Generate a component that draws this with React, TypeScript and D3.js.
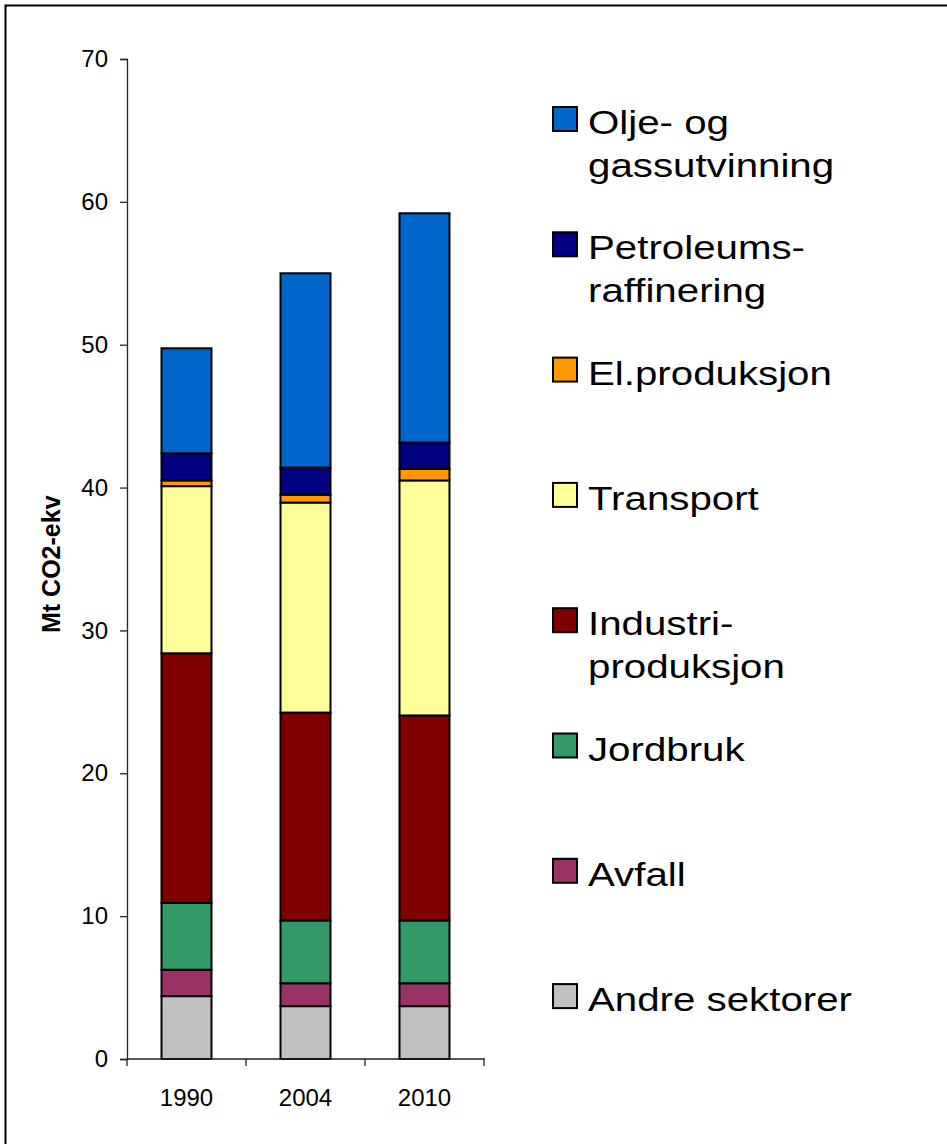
import React, { useRef, useEffect } from 'react';
import * as d3 from 'd3';

// years on the x axis
const years = ['1990', '2004', '2010'];

// sectors, bottom to top of the stack
const sectors = [
    'Andre sektorer',
    'Avfall',
    'Jordbruk',
    'Industriproduksjon',
    'Transport',
    'El.produksjon',
    'Petroleumsraffinering',
    'Olje- og gassutvinning',
];

// Mt CO2-ekv per sector, one value per year
const andre = [4.4, 3.7, 3.7];
const avfall = [1.85, 1.6, 1.6];
const jordbruk = [4.67, 4.4, 4.4];
const industri = [17.48, 14.55, 14.35];
const transport = [11.7, 14.7, 16.45];
const elprod = [0.4, 0.55, 0.8];
const petroleum = [1.9, 1.9, 1.85];
const olje = [7.35, 13.6, 16.05];

const sectorValues = [andre, avfall, jordbruk, industri, transport, elprod, petroleum, olje];

const colors = ['#C0C0C0', '#993366', '#339966', '#800000', '#FFFF99', '#FF9900', '#000080', '#0066CC'];

// legend text, top entry first, split over lines
const legendLines = [
    ['Olje- og', 'gassutvinning'],
    ['Petroleums-', 'raffinering'],
    ['El.produksjon'],
    ['Transport'],
    ['Industri-', 'produksjon'],
    ['Jordbruk'],
    ['Avfall'],
    ['Andre sektorer'],
];

const yTicks = [0, 10, 20, 30, 40, 50, 60, 70];

const ChartD3 = () => {
    const ref = useRef(null);

    useEffect(() => {
        const width = 947;
        const height = 1144;
        const font = "'Liberation Sans', Arial, sans-serif";

        d3.select(ref.current).selectAll('*').remove();
        const svg = d3.select(ref.current);

        // outer frame (runs off the right and bottom edge)
        svg.append('rect')
            .attr('x', 5.5).attr('y', 5.5)
            .attr('width', width + 10).attr('height', height + 10)
            .attr('fill', 'white')
            .attr('stroke', 'black')
            .attr('stroke-width', 2);

        const x = d3.scaleBand().domain(years).range([127, 484]).paddingInner(0.58).paddingOuter(0.29);
        const y = d3.scaleLinear().domain([0, 70]).range([1059, 59]);

        // table for d3.stack
        const table = years.map((yr, i) => {
            const row = { year: yr };
            sectors.forEach((s, k) => { row[s] = sectorValues[k][i]; });
            return row;
        });
        const series = d3.stack().keys(sectors)(table);

        svg.append('g')
            .selectAll('g')
            .data(series)
            .enter()
            .append('g')
            .attr('fill', (d, i) => colors[i])
            .selectAll('rect')
            .data(d => d)
            .enter()
            .append('rect')
            .attr('x', d => x(d.data.year))
            .attr('width', x.bandwidth())
            .attr('y', d => y(d[1]))
            .attr('height', d => y(d[0]) - y(d[1]))
            .attr('stroke', 'black')
            .attr('stroke-width', 2);

        // y axis
        const yAxis = svg.append('g')
            .attr('transform', 'translate(127,0)')
            .call(d3.axisLeft(y).tickValues(yTicks).tickSize(7).tickPadding(12).tickFormat(d3.format('d')));
        yAxis.select('.domain').attr('stroke', '#222').attr('stroke-width', 1.3);
        yAxis.selectAll('.tick line').attr('stroke', '#222').attr('stroke-width', 1.3);
        yAxis.selectAll('text')
            .attr('font-family', font)
            .attr('font-size', 24)
            .attr('fill', 'black');

        // x axis: ticks between categories
        const xAxis = svg.append('g').attr('transform', 'translate(0,1059)');
        xAxis.append('line')
            .attr('x1', 127).attr('x2', 485)
            .attr('stroke', '#222').attr('stroke-width', 1.3);
        const step = x.step();
        const bounds = d3.range(years.length + 1).map(i => x(years[0]) - x.paddingOuter() * step + i * step);
        xAxis.selectAll('.sep')
            .data(bounds)
            .enter()
            .append('line')
            .attr('x1', d => d).attr('x2', d => d)
            .attr('y1', 0).attr('y2', 7)
            .attr('stroke', '#222').attr('stroke-width', 1.3);
        xAxis.selectAll('.lbl')
            .data(years)
            .enter()
            .append('text')
            .attr('x', d => x(d) + x.bandwidth() / 2)
            .attr('y', 47)
            .attr('text-anchor', 'middle')
            .attr('font-family', font)
            .attr('font-size', 24)
            .text(d => d);

        // y axis title
        svg.append('text')
            .attr('transform', 'translate(60,633) rotate(-90)')
            .attr('text-anchor', 'start')
            .attr('font-family', font)
            .attr('font-weight', 'bold')
            .attr('font-size', 25)
            .text('Mt CO2-ekv');

        // legend
        const legend = svg.append('g');
        const item = legend.selectAll('g')
            .data(legendLines)
            .enter()
            .append('g')
            .attr('transform', (d, i) => 'translate(553,' + (107 + i * 125.3) + ')');
        item.append('rect')
            .attr('width', 24).attr('height', 24)
            .attr('fill', (d, i) => colors[colors.length - 1 - i])
            .attr('stroke', 'black')
            .attr('stroke-width', 2);
        item.each(function (lines) {
            const t = d3.select(this).append('text')
                .attr('transform', 'translate(35,27) scale(1.22,1)')
                .attr('font-family', font)
                .attr('font-size', 33);
            lines.forEach((l, j) => {
                t.append('tspan').attr('x', 0).attr('y', j * 43).text(l);
            });
        });
    }, []);

    return <svg ref={ref} width={947} height={1144} style={{ display: 'block' }} />;
};

const App = () => (
    <div style={{ position: 'absolute', left: 0, top: 0 }}>
        <ChartD3 />
    </div>
);

export default App;
